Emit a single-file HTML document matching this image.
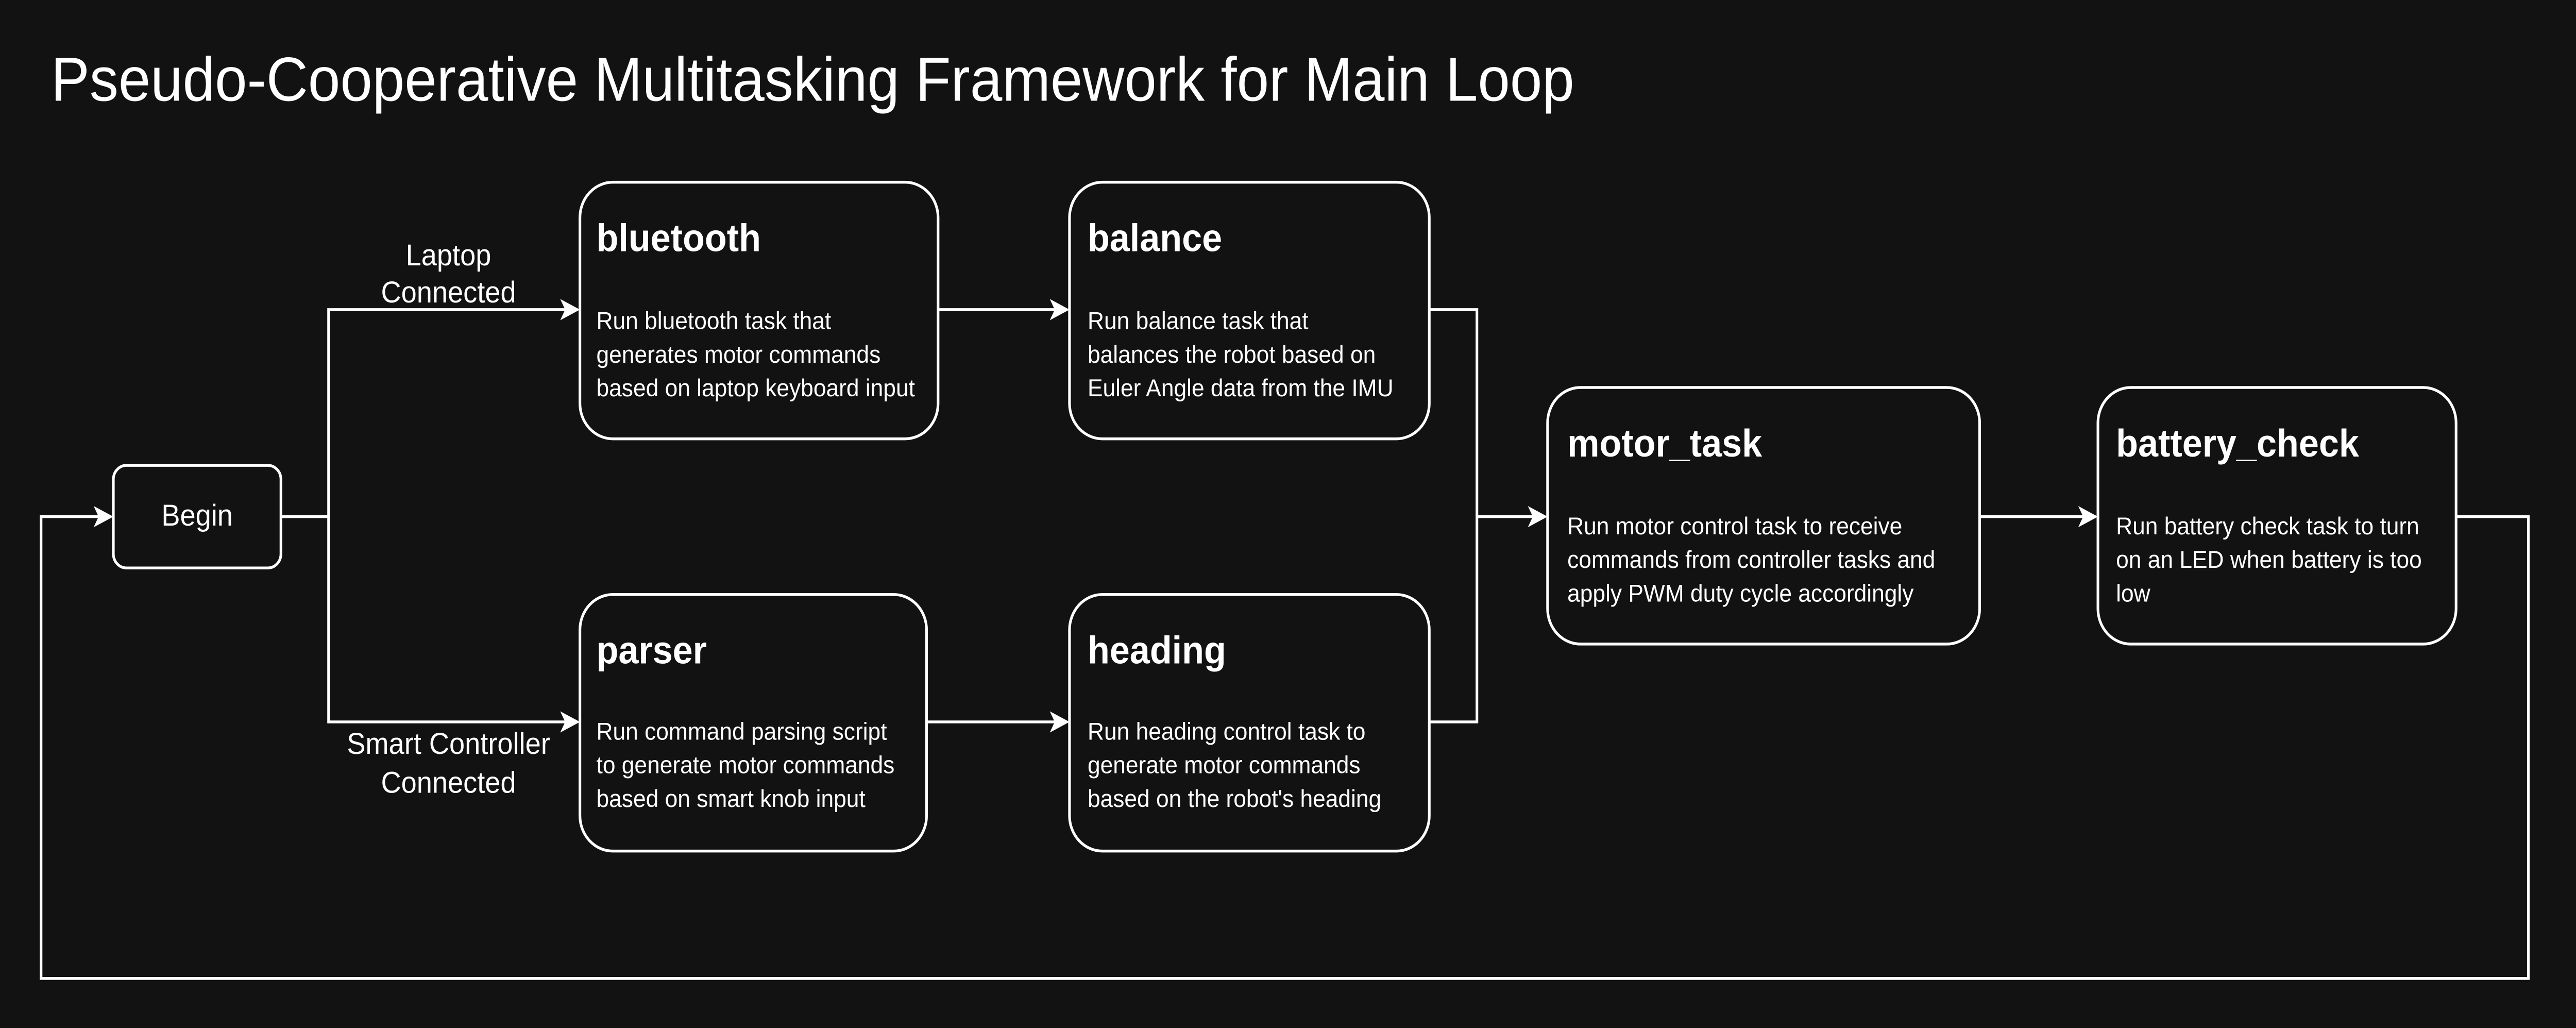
<!DOCTYPE html>
<html><head><style>
html,body{margin:0;padding:0;background:#121212;width:100%;height:100%;overflow:hidden;}
svg{display:block;position:fixed;left:0;top:0;width:100vw;height:100vh;}
text{font-family:"Liberation Sans",Arial,sans-serif;fill:#fff;}
.t{font-size:22px;font-weight:bold;}
.b{font-size:13.9px;}
.l{font-size:17px;}
</style></head><body>
<svg viewBox="0 0 1568 581" preserveAspectRatio="none" xmlns="http://www.w3.org/2000/svg">
<rect width="1568" height="581" fill="#121212"/>
<text x="31" y="57" style="font-size:35.2px">Pseudo-Cooperative Multitasking Framework for Main Loop</text>
<g fill="none" stroke="#fff" stroke-width="1.6">
<rect x="69" y="263" width="102" height="58" rx="8"/>
<rect x="353" y="103" width="218" height="145" rx="20"/>
<rect x="651" y="103" width="219" height="145" rx="20"/>
<rect x="353" y="336" width="211" height="145" rx="20"/>
<rect x="651" y="336" width="219" height="145" rx="20"/>
<rect x="942" y="219" width="263" height="145" rx="20"/>
<rect x="1277" y="219" width="218" height="145" rx="20"/>
<polyline points="171,292 200,292"/>
<polyline points="345,175 200,175 200,408 345,408"/>
<line x1="571" y1="175" x2="643" y2="175"/>
<line x1="564" y1="408" x2="643" y2="408"/>
<polyline points="870,175 899,175 899,408 870,408"/>
<line x1="899" y1="292" x2="934" y2="292"/>
<line x1="1205" y1="292" x2="1269" y2="292"/>
<polyline points="1495,292 1539,292 1539,553 25,553 25,292 61,292"/>
</g>
<g fill="#fff">
<path d="M353,175 L341,169 L344,175 L341,181 Z"/>
<path d="M353,408 L341,402 L344,408 L341,414 Z"/>
<path d="M651,175 L639,169 L642,175 L639,181 Z"/>
<path d="M651,408 L639,402 L642,408 L639,414 Z"/>
<path d="M942,292 L930,286 L933,292 L930,298 Z"/>
<path d="M1277,292 L1265,286 L1268,292 L1265,298 Z"/>
<path d="M69,292 L57,286 L60,292 L57,298 Z"/>
</g>
<text class="l" x="120" y="297" text-anchor="middle">Begin</text>
<text class="l" x="273" y="150" text-anchor="middle">Laptop</text>
<text class="l" x="273" y="171" text-anchor="middle">Connected</text>
<text class="l" x="273" y="426" text-anchor="middle">Smart Controller</text>
<text class="l" x="273" y="448" text-anchor="middle">Connected</text>

<text class="t" x="363" y="142">bluetooth</text>
<text class="b" x="363" y="186">Run bluetooth task that</text>
<text class="b" x="363" y="205">generates motor commands</text>
<text class="b" x="363" y="224">based on laptop keyboard input</text>

<text class="t" x="662" y="142">balance</text>
<text class="b" x="662" y="186">Run balance task that</text>
<text class="b" x="662" y="205">balances the robot based on</text>
<text class="b" x="662" y="224">Euler Angle data from the IMU</text>

<text class="t" x="363" y="375">parser</text>
<text class="b" x="363" y="418">Run command parsing script</text>
<text class="b" x="363" y="437">to generate motor commands</text>
<text class="b" x="363" y="456">based on smart knob input</text>

<text class="t" x="662" y="375">heading</text>
<text class="b" x="662" y="418">Run heading control task to</text>
<text class="b" x="662" y="437">generate motor commands</text>
<text class="b" x="662" y="456">based on the robot's heading</text>

<text class="t" x="954" y="258">motor_task</text>
<text class="b" x="954" y="302">Run motor control task to receive</text>
<text class="b" x="954" y="321">commands from controller tasks and</text>
<text class="b" x="954" y="340">apply PWM duty cycle accordingly</text>

<text class="t" x="1288" y="258">battery_check</text>
<text class="b" x="1288" y="302">Run battery check task to turn</text>
<text class="b" x="1288" y="321">on an LED when battery is too</text>
<text class="b" x="1288" y="340">low</text>
</svg>
</body></html>
